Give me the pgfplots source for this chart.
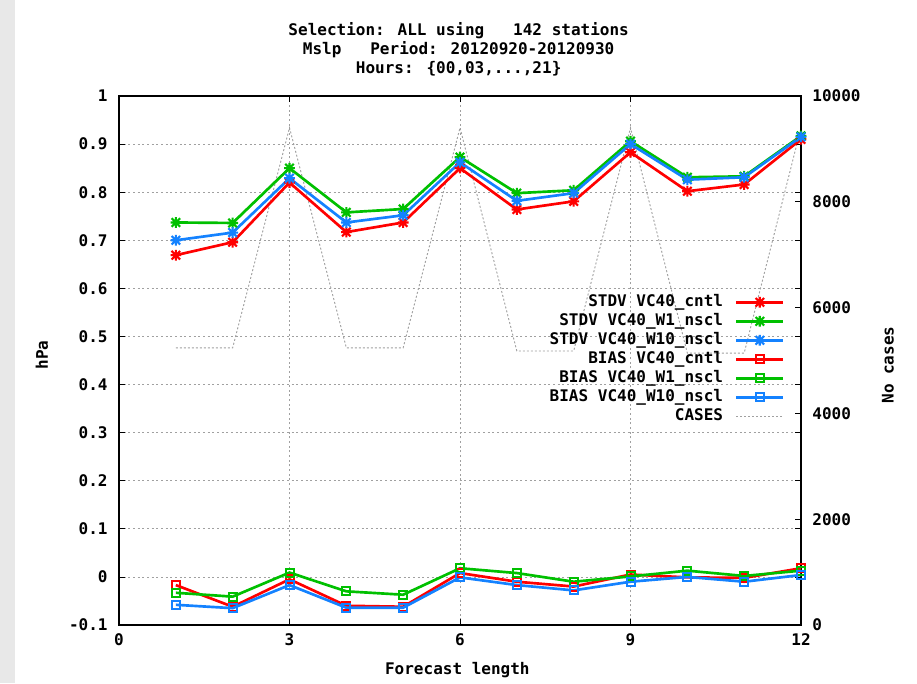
\documentclass[border=0pt]{standalone}
\usepackage{fontspec}
\setmainfont{DejaVu Sans Mono}[UprightFont=* Bold]
\usepackage{pgfplots}
\pgfplotsset{compat=1.18}
\definecolor{gpred}{RGB}{255,0,0}
\definecolor{gpgreen}{RGB}{0,192,0}
\definecolor{gpblue}{RGB}{20,130,255}
\definecolor{gridgray}{RGB}{160,160,160}
\definecolor{bggray}{RGB}{232,232,232}
\pgfdeclareplotmark{gpstar}{%
  \pgfpathmoveto{\pgfqpoint{-\pgfplotmarksize}{0pt}}\pgfpathlineto{\pgfqpoint{\pgfplotmarksize}{0pt}}%
  \pgfpathmoveto{\pgfqpoint{0pt}{-\pgfplotmarksize}}\pgfpathlineto{\pgfqpoint{0pt}{\pgfplotmarksize}}%
  \pgfpathmoveto{\pgfqpoint{-.8\pgfplotmarksize}{-.8\pgfplotmarksize}}\pgfpathlineto{\pgfqpoint{.8\pgfplotmarksize}{.8\pgfplotmarksize}}%
  \pgfpathmoveto{\pgfqpoint{-.8\pgfplotmarksize}{.8\pgfplotmarksize}}\pgfpathlineto{\pgfqpoint{.8\pgfplotmarksize}{-.8\pgfplotmarksize}}%
  \pgfusepathqstroke}
\begin{document}
\begin{tikzpicture}[font=\fontsize{12}{14}\selectfont]
\path[use as bounding box] (0,0) rectangle (687.75pt,512.25pt);
\fill[bggray] (0,0) rectangle (11pt,512.25pt);
% cases axis (right)
\begin{axis}[
  at={(89.25pt,43.5pt)}, anchor=south west,
  scale only axis, width=511.5pt, height=396.75pt,
  xmin=0, xmax=12, ymin=0, ymax=10000,
  axis y line*=right, hide x axis,
  ytick={0,2000,4000,6000,8000,10000},
  scaled y ticks=false,
  /pgf/number format/1000 sep={},
  /pgf/number format/assume math mode=true,
  tick align=inside, major tick length=4.5pt,
  yticklabel style={xshift=5pt},
  axis line style={black, line width=0.8pt},
  tick style={black, line width=0.6pt},
]
\addplot[gridgray, line width=0.7pt, dash pattern=on 1.5pt off 1.5pt] coordinates {
(1,5240) (2,5240) (3,9400) (4,5240) (5,5240) (6,9400) (7,5180) (8,5180) (9,9400) (10,5140) (11,5140) (12,9400)};
\end{axis}
% main axis
\begin{axis}[
  at={(89.25pt,43.5pt)}, anchor=south west,
  scale only axis, width=511.5pt, height=396.75pt,
  xmin=0, xmax=12, ymin=-0.1, ymax=1,
  xtick={0,3,6,9,12},
  ytick={-0.1,0,0.1,0.2,0.3,0.4,0.5,0.6,0.7,0.8,0.9,1},
  yticklabels={-0.1,0,0.1,0.2,0.3,0.4,0.5,0.6,0.7,0.8,0.9,1},
  /pgf/number format/assume math mode=true,
  tick align=inside, major tick length=4.5pt,
  xticklabel style={yshift=-3pt},
  yticklabel style={xshift=-5pt},
  grid=major,
  major grid style={gridgray, line width=0.6pt, dash pattern=on 1.5pt off 2pt},
  axis line style={black, line width=0.8pt},
  tick style={black, line width=0.6pt},
  legend plot pos=right,
  legend cell align=right,
  legend style={draw=none, fill=none, at={(0.982,0.632)}, anchor=north east,
     nodes={inner sep=1pt, text height=9pt, text depth=2pt}, row sep=1.25pt,
     column sep=8pt},
  legend image code/.code={\draw[mark repeat=2,mark phase=2] plot coordinates {(0pt,0pt) (17.5pt,0pt) (35pt,0pt)};},
]
\addplot[gpred, line width=2pt, mark=gpstar, mark size=4pt, mark options={line width=1.6pt}] coordinates {
(1,0.669) (2,0.696) (3,0.820) (4,0.717) (5,0.737) (6,0.850) (7,0.764) (8,0.781) (9,0.883) (10,0.802) (11,0.816) (12,0.910)};
\addlegendentry{STDV VC40\_cntl}
\addplot[gpgreen, line width=2pt, mark=gpstar, mark size=4pt, mark options={line width=1.6pt}] coordinates {
(1,0.737) (2,0.736) (3,0.850) (4,0.758) (5,0.765) (6,0.873) (7,0.798) (8,0.804) (9,0.906) (10,0.831) (11,0.833) (12,0.917)};
\addlegendentry{STDV VC40\_W1\_nscl}
\addplot[gpblue, line width=2pt, mark=gpstar, mark size=4pt, mark options={line width=1.6pt}] coordinates {
(1,0.700) (2,0.716) (3,0.829) (4,0.737) (5,0.752) (6,0.862) (7,0.782) (8,0.798) (9,0.900) (10,0.826) (11,0.831) (12,0.915)};
\addlegendentry{STDV VC40\_W10\_nscl}
\addplot[gpred, line width=2pt, mark=square, mark size=3pt, mark options={line width=1.5pt}] coordinates {
(1,-0.017) (2,-0.062) (3,-0.005) (4,-0.060) (5,-0.062) (6,0.008) (7,-0.010) (8,-0.020) (9,0.005) (10,-0.001) (11,-0.002) (12,0.018)};
\addlegendentry{BIAS VC40\_cntl}
\addplot[gpgreen, line width=2pt, mark=square, mark size=3pt, mark options={line width=1.5pt}] coordinates {
(1,-0.033) (2,-0.041) (3,0.009) (4,-0.030) (5,-0.037) (6,0.018) (7,0.008) (8,-0.010) (9,0.001) (10,0.013) (11,0.002) (12,0.013)};
\addlegendentry{BIAS VC40\_W1\_nscl}
\addplot[gpblue, line width=2pt, mark=square, mark size=3pt, mark options={line width=1.5pt}] coordinates {
(1,-0.058) (2,-0.065) (3,-0.017) (4,-0.064) (5,-0.064) (6,-0.001) (7,-0.017) (8,-0.028) (9,-0.010) (10,0.000) (11,-0.010) (12,0.004)};
\addlegendentry{BIAS VC40\_W10\_nscl}
\addlegendimage{gridgray, line width=0.7pt, dash pattern=on 1.5pt off 1.5pt}
\addlegendentry{CASES}
\end{axis}
\node[align=center, inner sep=0pt, font=\fontsize{12}{14.25}\selectfont] at (344pt,475.5pt)
  {Selection: ALL using\ \ \ 142 stations\\Mslp\ \ \ Period: 20120920-20120930\\Hours: \{00,03,...,21\}};
\node[rotate=90, inner sep=0pt] at (31.5pt,246pt) {hPa};
\node[rotate=90, inner sep=0pt] at (666pt,238.5pt) {No cases};
\node[inner sep=0pt] at (343pt,9.75pt) {Forecast length};
\end{tikzpicture}
\end{document}
